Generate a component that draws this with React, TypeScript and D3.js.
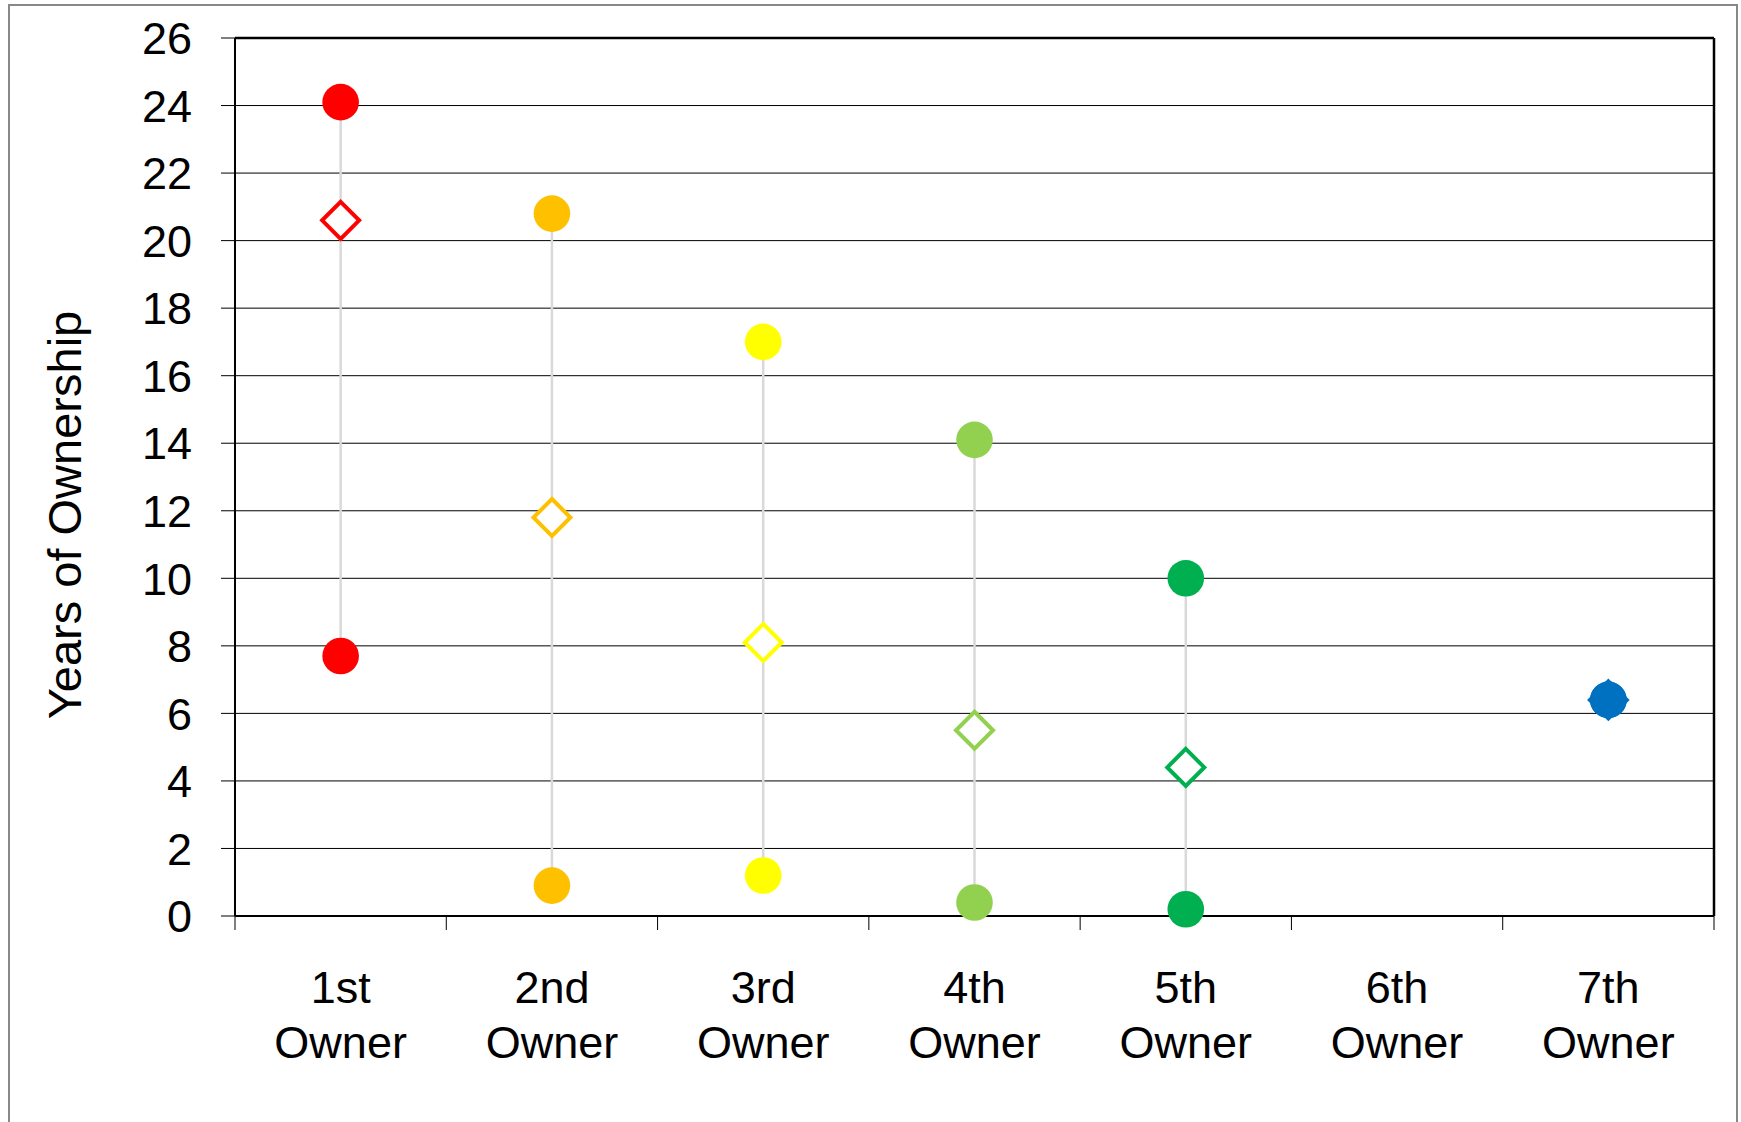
import React from "react";
import * as d3 from "d3";

// 데이터
const owners = ["1st Owner", "2nd Owner", "3rd Owner", "4th Owner", "5th Owner", "6th Owner", "7th Owner"];
const maxYears = [24.1, 20.8, 17.0, 14.1, 10.0, null, 6.4];
const avgYears = [20.6, 11.8, 8.1, 5.5, 4.4, null, 6.4];
const minYears = [7.7, 0.9, 1.2, 0.4, 0.2, null, 6.4];
const ownerColors = ["#FF0000", "#FFC000", "#FFFF00", "#92D050", "#00B050", "#999999", "#0070C0"];
const yTicks = [0, 2, 4, 6, 8, 10, 12, 14, 16, 18, 20, 22, 24, 26];

const W = 1741;
const H = 1122;
const plot = { left: 235, right: 1714, top: 38, bottom: 916 };
const FONT = "'Liberation Sans', Arial, sans-serif";

export default function App() {
  const x = d3.scaleBand<string>().domain(owners).range([plot.left, plot.right]);
  const y = d3.scaleLinear().domain([0, 26]).range([plot.bottom, plot.top]);
  const cx = (o: string) => (x(o) ?? 0) + x.bandwidth() / 2;
  const boundaries = owners.map((o) => x(o) ?? 0).concat([plot.right]);
  const d = 18.5; // 다이아몬드 반경

  return (
    <svg
      width={W}
      height={H}
      style={{ position: "absolute", left: 0, top: 0, background: "#fff" }}
      fontFamily={FONT}
    >
      {/* 바깥 테두리 */}
      <rect x={9} y={5} width={1728} height={1140} fill="#fff" stroke="#888" strokeWidth={2} />

      {/* 가로 그리드 + y 눈금 */}
      {yTicks.map((t) => (
        <g key={t}>
          <line x1={plot.left} x2={plot.right} y1={y(t)} y2={y(t)} stroke="#000" strokeWidth={1} />
          <line x1={plot.left - 14} x2={plot.left} y1={y(t)} y2={y(t)} stroke="#000" strokeWidth={1} />
          <text x={192} y={y(t)} dy="0.36em" textAnchor="end" fontSize={45} fill="#000">
            {t}
          </text>
        </g>
      ))}

      {/* x 눈금 */}
      {boundaries.map((b, i) => (
        <line key={i} x1={b} x2={b} y1={plot.bottom} y2={plot.bottom + 14} stroke="#000" strokeWidth={1} />
      ))}

      {/* 플롯 테두리 */}
      <line x1={plot.left} x2={plot.right} y1={plot.top} y2={plot.top} stroke="#000" strokeWidth={2.5} />
      <line x1={plot.right} x2={plot.right} y1={plot.top} y2={plot.bottom} stroke="#000" strokeWidth={2.5} />
      <line x1={plot.left} x2={plot.left} y1={plot.top} y2={plot.bottom} stroke="#000" strokeWidth={2} />
      <line x1={plot.left} x2={plot.right} y1={plot.bottom} y2={plot.bottom} stroke="#000" strokeWidth={2} />

      {/* x 라벨 */}
      {owners.map((o) => {
        const [a, b] = o.split(" ");
        return (
          <text key={o} x={cx(o)} textAnchor="middle" fontSize={45} fill="#000">
            <tspan x={cx(o)} y={1003}>{a}</tspan>
            <tspan x={cx(o)} y={1058}>{b}</tspan>
          </text>
        );
      })}

      {/* y축 제목 */}
      <text
        transform={`translate(81, 515) rotate(-90)`}
        textAnchor="middle"
        fontSize={47}
        fill="#000"
      >
        Years of Ownership
      </text>

      {/* 최고-최저 연결선 */}
      {owners.map((o, i) =>
        maxYears[i] == null || minYears[i] == null ? null : (
          <line
            key={"hl" + o}
            x1={cx(o)}
            x2={cx(o)}
            y1={y(maxYears[i] as number)}
            y2={y(minYears[i] as number)}
            stroke="#D9D9D9"
            strokeWidth={2.5}
          />
        )
      )}

      {/* 평균 (다이아몬드) */}
      {owners.map((o, i) => {
        const v = avgYears[i];
        if (v == null) return null;
        const px = cx(o);
        const py = y(v);
        return (
          <path
            key={"avg" + o}
            d={`M${px},${py - d}L${px + d},${py}L${px},${py + d}L${px - d},${py}Z`}
            fill={i === 6 ? ownerColors[i] : "#fff"}
            stroke={ownerColors[i]}
            strokeWidth={4}
          />
        );
      })}

      {/* 최고/최저 (원) */}
      {owners.map((o, i) =>
        [maxYears[i], minYears[i]].map((v, j) =>
          v == null ? null : (
            <circle key={o + j} cx={cx(o)} cy={y(v)} r={18.3} fill={ownerColors[i]} />
          )
        )
      )}
    </svg>
  );
}
